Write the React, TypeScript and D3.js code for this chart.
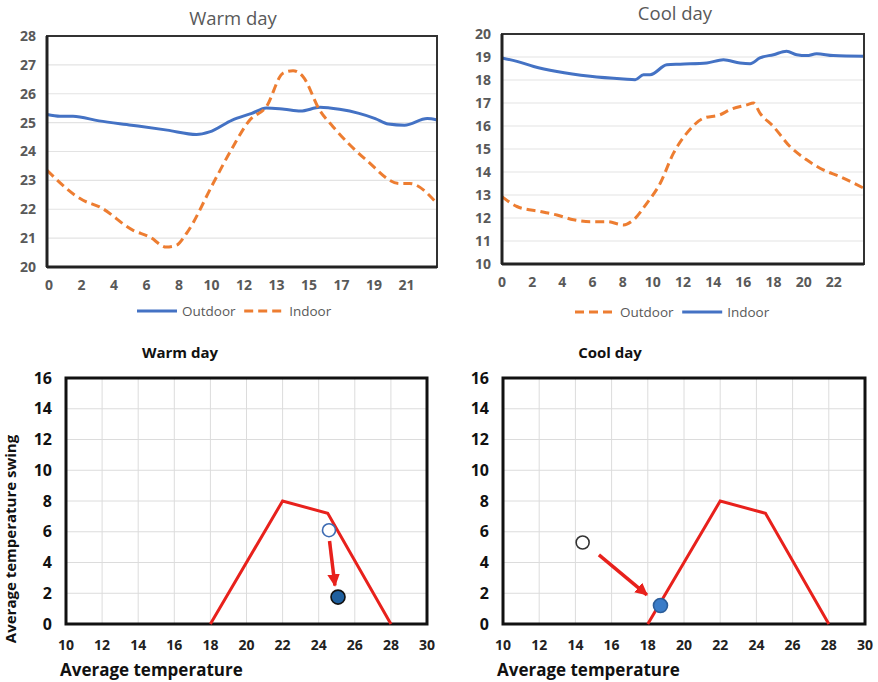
import React from "react";
import * as d3 from "d3";

// ---- top left: warm day (x in category slots, Excel-style labels)
const warmSlotLabels = ["0", "2", "4", "6", "8", "10", "12", "13", "15", "17", "19", "21"];
const warmOutdoor: [number, number][] = [
  [0, 25.28], [0.4, 25.22], [0.8, 25.22], [1.6, 25.06], [2.6, 24.91], [3.7, 24.74],
  [4.6, 24.59], [5.0, 24.68], [5.7, 25.09], [6.3, 25.32], [6.75, 25.51], [7.3, 25.46],
  [7.8, 25.4], [8.4, 25.53], [9.0, 25.46], [9.6, 25.32], [10.1, 25.14], [10.5, 24.95],
  [11.0, 24.91], [11.7, 25.14], [12, 25.09],
];
const warmIndoor: [number, number][] = [
  [0, 23.35], [1.11, 22.31], [1.62, 22.08], [2.65, 21.27], [3.16, 21.04], [3.67, 20.69],
  [3.98, 20.75], [4.29, 21.16], [5.11, 22.89], [5.72, 24.16], [6.24, 25.09], [6.75, 25.55],
  [7.26, 26.71], [7.57, 26.8], [7.88, 26.59], [8.39, 25.43], [8.8, 24.86], [9.83, 23.7],
  [10.85, 22.89], [11.16, 22.89], [12, 22.2],
];

// ---- top right: cool day (x in hours)
const coolHours = [0, 2, 4, 6, 8, 10, 12, 14, 16, 18, 20, 22];
const coolIndoor: [number, number][] = [
  [0, 18.96], [0.99, 18.81], [2.1, 18.59], [3.64, 18.37], [5.85, 18.16], [8.06, 18.04],
  [8.83, 18.01], [9.38, 18.23], [9.82, 18.23], [10.93, 18.66], [11.81, 18.69], [13.58, 18.74],
  [14.68, 18.88], [15.78, 18.74], [16.45, 18.71], [17.1, 18.96], [18.0, 19.1], [18.87, 19.25],
  [19.54, 19.1], [20.2, 19.06], [20.86, 19.14], [21.96, 19.06], [24, 19.03],
];
const coolOutdoor: [number, number][] = [
  [0, 12.93], [0.99, 12.5], [2.54, 12.28], [3.64, 12.13], [4.75, 11.92], [5.85, 11.84],
  [6.95, 11.84], [8.06, 11.7], [8.72, 11.92], [9.6, 12.64], [10.49, 13.51], [11.37, 14.82],
  [12.25, 15.69], [13.36, 16.34], [14.46, 16.49], [15.12, 16.71], [16.23, 16.92], [16.67, 17.0],
  [17.1, 16.56], [17.99, 15.98], [19.09, 15.11], [20.2, 14.53], [21.3, 14.09], [22.4, 13.8],
  [24, 13.29],
];

// ---- bottom: comfort zone and points
const comfortZone: [number, number][] = [[18, 0], [22, 8], [24.5, 7.2], [28, 0]];
const warmBefore: [number, number] = [24.57, 6.1];
const warmAfter: [number, number] = [25.07, 1.75];
const warmArrow: [number, number][] = [[24.6, 5.4], [24.9, 2.5]];
const coolBefore: [number, number] = [14.4, 5.3];
const coolAfter: [number, number] = [18.7, 1.2];
const coolArrow: [number, number][] = [[15.3, 4.5], [17.95, 1.9]];
const swingTicks = d3.range(0, 17, 2);
const tempTicks = d3.range(10, 31, 2);

const BLUE = "#4472c4";
const ORANGE = "#ed7d31";
const RED = "#e8211c";
const FONT = "'Open Sans', 'Liberation Sans', sans-serif";

type Series = { data: [number, number][]; color: string; dashed: boolean; name: string };

function LineChart({
  left, right, top, bottom, xDomain, yDomain, yTicks, xTickVals, xTickLabels,
  series, title, titleX, titleY, legendX, legendY,
}: {
  left: number; right: number; top: number; bottom: number;
  xDomain: [number, number]; yDomain: [number, number]; yTicks: number[];
  xTickVals: number[]; xTickLabels: string[]; series: Series[];
  title: string; titleX: number; titleY: number; legendX: number; legendY: number;
}) {
  const x = d3.scaleLinear(xDomain, [left, right]);
  const y = d3.scaleLinear(yDomain, [bottom, top]);
  const line = d3.line<[number, number]>((d) => x(d[0]), (d) => y(d[1])).curve(d3.curveMonotoneX);
  let lx = legendX;
  return (
    <g fontFamily={FONT}>
      <text x={titleX} y={titleY} textAnchor="middle" fontSize={18.5} fill="#595959">{title}</text>
      {yTicks.map((t) => (
        <g key={t}>
          <line x1={left} x2={right} y1={y(t)} y2={y(t)} stroke="#e3e3e3" strokeWidth={1.2} />
          <text x={left - 11} y={y(t)} dy="0.35em" textAnchor="end" fontSize={14} fontWeight="bold" fill="#595959">{t}</text>
        </g>
      ))}
      {xTickVals.map((t, i) => (
        <text key={i} x={x(t)} y={bottom + 23} textAnchor="middle" fontSize={14} fontWeight="bold" fill="#595959">{xTickLabels[i]}</text>
      ))}
      {series.map((s) => (
        <path key={s.name} d={line(s.data) ?? ""} fill="none" stroke={s.color} strokeWidth={3}
          strokeDasharray={s.dashed ? "9 5" : undefined} />
      ))}
      <rect x={left} y={top} width={right - left} height={bottom - top} fill="none" stroke="#333" strokeWidth={2} />
      <line x1={left} x2={left} y1={top} y2={bottom} stroke="#222" strokeWidth={3} />
      <line x1={left} x2={right} y1={bottom} y2={bottom} stroke="#222" strokeWidth={3} />
      {series.map((s) => {
        const x0 = lx;
        lx += 40 + 6 + s.name.length * 7.6 + 8;
        return (
          <g key={s.name}>
            <line x1={x0} x2={x0 + 40} y1={legendY} y2={legendY} stroke={s.color} strokeWidth={3}
              strokeDasharray={s.dashed ? "9 5" : undefined} />
            <text x={x0 + 45} y={legendY} dy="0.35em" fontSize={13.5} fill="#595959">{s.name}</text>
          </g>
        );
      })}
    </g>
  );
}

function SwingChart({
  left, right, top, bottom, title, titleX, before, after, arrow, beforeStroke, afterFill, afterStroke,
  yLabel, id,
}: {
  left: number; right: number; top: number; bottom: number; title: string; titleX: number;
  before: [number, number]; after: [number, number]; arrow: [number, number][];
  beforeStroke: string; afterFill: string; afterStroke: string; yLabel: boolean; id: string;
}) {
  const x = d3.scaleLinear([10, 30], [left, right]);
  const y = d3.scaleLinear([0, 16], [bottom, top]);
  const line = d3.line<[number, number]>((d) => x(d[0]), (d) => y(d[1]));
  return (
    <g fontFamily={FONT}>
      <defs>
        <marker id={id} viewBox="0 0 10 10" refX="9" refY="5" markerWidth="3.6" markerHeight="3.6" orient="auto">
          <path d="M0,0L10,5L0,10Z" fill={RED} />
        </marker>
      </defs>
      <text x={titleX} y={top - 20} textAnchor="middle" fontSize={15} fontWeight="bold" fill="#111">{title}</text>
      {tempTicks.map((t) => (
        <g key={t}>
          <line x1={x(t)} x2={x(t)} y1={top} y2={bottom} stroke="#dcdcdc" strokeWidth={1} />
          <text x={x(t)} y={bottom + 26} textAnchor="middle" fontSize={14} fontWeight="bold" fill="#222">{t}</text>
        </g>
      ))}
      {swingTicks.map((t) => (
        <g key={t}>
          <line x1={left} x2={right} y1={y(t)} y2={y(t)} stroke="#dcdcdc" strokeWidth={1} />
          <text x={left - 14} y={y(t)} dy="0.35em" textAnchor="end" fontSize={16} fontWeight="bold" fill="#111">{t}</text>
        </g>
      ))}
      <rect x={left} y={top} width={right - left} height={bottom - top} fill="none" stroke="#111" strokeWidth={3} />
      <path d={line(comfortZone) ?? ""} fill="none" stroke={RED} strokeWidth={3} />
      <path d={line(arrow) ?? ""} fill="none" stroke={RED} strokeWidth={3.5} markerEnd={`url(#${id})`} />
      <circle cx={x(before[0])} cy={y(before[1])} r={6.5} fill="#fff" stroke={beforeStroke} strokeWidth={1.6} />
      <circle cx={x(after[0])} cy={y(after[1])} r={7} fill={afterFill} stroke={afterStroke} strokeWidth={1.6} />
      <text x={left - 6} y={bottom + 52} fontSize={17} fontWeight="bold" fill="#111">Average temperature</text>
      {yLabel && (
        <text transform={`translate(${left - 50},${(top + bottom) / 2 + 38}) rotate(-90)`} textAnchor="middle"
          fontSize={15} fontWeight="bold" fill="#111">Average temperature swing</text>
      )}
    </g>
  );
}

export default function App() {
  return (
    <svg width={878} height={682} style={{ position: "absolute", left: 0, top: 0, background: "#fff" }}>
      <LineChart left={47} right={437} top={36} bottom={267} xDomain={[0, 12]} yDomain={[20, 28]}
        yTicks={d3.range(20, 29)} xTickVals={d3.range(0, 12).map((i) => i + 0.06)} xTickLabels={warmSlotLabels}
        series={[
          { data: warmOutdoor, color: BLUE, dashed: false, name: "Outdoor" },
          { data: warmIndoor, color: ORANGE, dashed: true, name: "Indoor" },
        ]}
        title="Warm day" titleX={233} titleY={25} legendX={137} legendY={311} />
      <LineChart left={502} right={864} top={34} bottom={264} xDomain={[0, 24]} yDomain={[10, 20]}
        yTicks={d3.range(10, 21)} xTickVals={coolHours} xTickLabels={coolHours.map(String)}
        series={[
          { data: coolOutdoor, color: ORANGE, dashed: true, name: "Outdoor" },
          { data: coolIndoor, color: BLUE, dashed: false, name: "Indoor" },
        ]}
        title="Cool day" titleX={675} titleY={20} legendX={575} legendY={312} />
      <SwingChart left={66} right={427} top={378} bottom={624} title="Warm day" titleX={180}
        before={warmBefore} after={warmAfter} arrow={warmArrow} beforeStroke="#3d6bb3"
        afterFill="#1f5f9e" afterStroke="#111" yLabel={true} id="arrowWarm" />
      <SwingChart left={503} right={865} top={378} bottom={624} title="Cool day" titleX={610}
        before={coolBefore} after={coolAfter} arrow={coolArrow} beforeStroke="#333"
        afterFill="#3a7cc8" afterStroke="#2b5d99" yLabel={false} id="arrowCool" />
    </svg>
  );
}
